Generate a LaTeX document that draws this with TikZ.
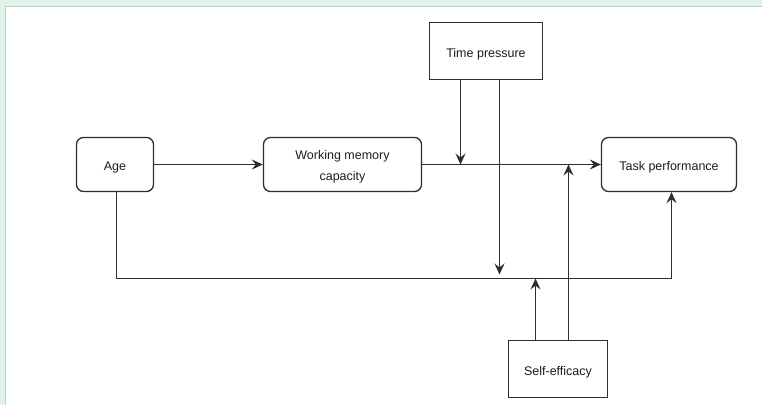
\documentclass[tikz,border=0pt]{standalone}
\usepackage{fontspec}
\setmainfont{Liberation Sans}
\usetikzlibrary{arrows.meta}
\definecolor{bggreen}{HTML}{E2F2E9}
\definecolor{bgline}{HTML}{A5DABF}
\definecolor{boxline}{HTML}{2E2E2E}
\definecolor{txt}{HTML}{1C1C28}
\begin{document}
\begin{tikzpicture}[x=1pt,y=-1pt,
  box/.style={draw=boxline, line width=1.3pt, fill=white, text=txt,
    font=\fontsize{12.5}{21}\selectfont, align=center, inner sep=0pt,
    text height=12pt, text depth=0pt},
  rbox/.style={box, rounded corners=7pt},
  conn/.style={draw=boxline, line width=1.3pt},
  arr/.style={conn, -{Stealth[length=11pt,width=10pt,inset=4pt]}}]
\useasboundingbox (0,0) rectangle (762,405);
\fill[bggreen] (0,0) rectangle (762,405);
\fill[white] (5,6) rectangle (762,405);
\draw[bgline, line width=1pt] (5.5,405) -- (5.5,6.5) -- (762,6.5);

\node[rbox, minimum width=77pt, minimum height=54pt] (age) at (115,164.5) {Age};
\node[rbox, minimum width=158pt, minimum height=54pt, text height=32.5pt] (wmc) at (342.5,164.5) {Working memory\\capacity};
\node[rbox, minimum width=135pt, minimum height=54pt] (task) at (669,164.5) {Task performance};
\node[box, minimum width=113pt, minimum height=57pt] (tp) at (486,51) {Time pressure};
\node[box, minimum width=99pt, minimum height=57pt] (se) at (558,369) {Self-efficacy};

\coordinate (m1) at (460.5,164.5);
\coordinate (m2) at (499.5,274.5);
\coordinate (c1) at (116.5,278.5);
\coordinate (c2) at (671.5,278.5);
\coordinate (m3) at (535.5,278.5);
\coordinate (m4) at (568.5,164.5);

\draw[arr] (age) -- (wmc);
\draw[arr] (wmc) -- (task);
\draw[arr] (tp.south -| m1) -- (m1);
\draw[arr] (tp.south -| m2) -- (m2);
\draw[arr] (age.south -| c1) -- (c1) -- (c2) -- (task.south -| c2);
\draw[arr] (se.north -| m3) -- (m3);
\draw[arr] (se.north -| m4) -- (m4);
\end{tikzpicture}
\end{document}
